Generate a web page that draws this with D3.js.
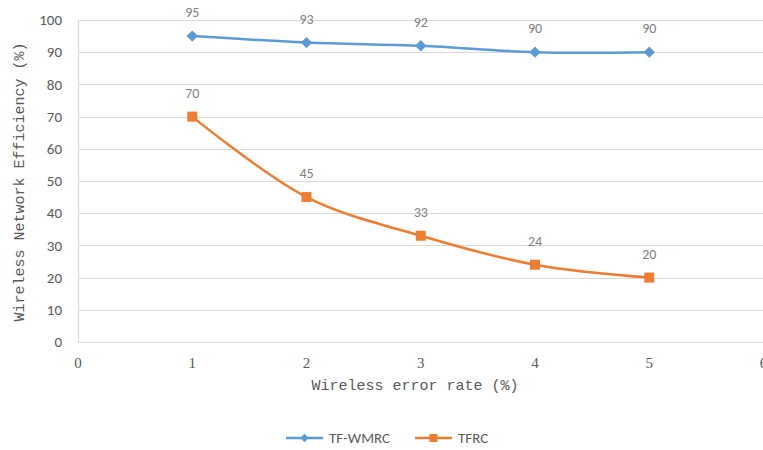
<!DOCTYPE html>
<html>
<head>
<meta charset="utf-8">
<script src="https://cdn.jsdelivr.net/npm/d3@7"></script>
<style>
  body { margin: 0; background: #fff; }
  svg { display: block; }
</style>
</head>
<body>
<div id="chart"></div>
<script>
const errorRates = [1, 2, 3, 4, 5];
const tfWmrc = [95, 93, 92, 90, 90];
const tfrc = [70, 45, 33, 24, 20];
const xTicks = [0, 1, 2, 3, 4, 5, 6];
const yTicks = [0, 10, 20, 30, 40, 50, 60, 70, 80, 90, 100];
const seriesNames = ['TF-WMRC', 'TFRC'];

const width = 763;
const height = 450;
const margins = { top: 20, right: 0, bottom: 108, left: 78 };

const svg = d3.select('#chart').append('svg')
    .attr('width', width)
    .attr('height', height);

const x = d3.scaleLinear().domain([0, 6]).range([margins.left, 763.5]);
const y = d3.scaleLinear().domain([0, 100]).range([height - margins.bottom, margins.top]);

// gridlines
svg.append('g')
    .selectAll('line')
    .data(yTicks)
    .join('line')
    .attr('x1', margins.left)
    .attr('x2', width)
    .attr('y1', d => Math.round(y(d)) + 0.5)
    .attr('y2', d => Math.round(y(d)) + 0.5)
    .attr('stroke', '#d9d9d9')
    .attr('stroke-width', 1.2);

svg.append('line')
    .attr('x1', margins.left + 0.5)
    .attr('x2', margins.left + 0.5)
    .attr('y1', y(100))
    .attr('y2', y(0))
    .attr('stroke', '#d9d9d9')
    .attr('stroke-width', 1.2);

// y tick labels
svg.append('g')
    .selectAll('text')
    .data(yTicks)
    .join('text')
    .attr('x', 62)
    .attr('y', d => y(d))
    .attr('dy', '0.35em')
    .attr('text-anchor', 'end')
    .attr('font-family', 'Carlito, "Liberation Sans", sans-serif')
    .attr('font-size', 15)
    .attr('fill', '#595959')
    .text(d => d);

// x tick labels (the last one is clipped by the right edge, as in the original)
svg.append('g')
    .selectAll('text')
    .data(xTicks)
    .join('text')
    .attr('x', d => x(d))
    .attr('y', 368)
    .attr('text-anchor', 'middle')
    .attr('font-family', '"Liberation Serif", serif')
    .attr('font-size', 15)
    .attr('fill', '#595959')
    .text(d => d);

// axis titles
svg.append('text')
    .attr('x', 415)
    .attr('y', 390)
    .attr('text-anchor', 'middle')
    .attr('font-family', '"Liberation Mono", monospace')
    .attr('font-size', 15)
    .attr('fill', '#595959')
    .text('Wireless error rate (%)');

svg.append('text')
    .attr('transform', 'translate(24,182) rotate(-90)')
    .attr('text-anchor', 'middle')
    .attr('font-family', '"Liberation Mono", monospace')
    .attr('font-size', 15)
    .attr('fill', '#595959')
    .text('Wireless Network Efficiency (%)');

const colors = ['#5b9bd5', '#ed7d31'];
const series = [tfWmrc, tfrc];

const line = d3.line()
    .x((d, i) => x(errorRates[i]))
    .y(d => y(d))
    .curve(d3.curveCatmullRom.alpha(0.5));

// diamond = square turned 45 degrees
function marker(s, side) {
    return d3.symbol(d3.symbolSquare, side * side)();
}

series.forEach((vals, s) => {
    const g = svg.append('g');
    g.append('path')
        .attr('d', line(vals))
        .attr('fill', 'none')
        .attr('stroke', colors[s])
        .attr('stroke-width', 2.5);

    g.selectAll('path.mark')
        .data(vals)
        .join('path')
        .attr('class', 'mark')
        .attr('transform', (d, i) => `translate(${x(errorRates[i])},${y(d)})` + (s === 0 ? ' rotate(45)' : ''))
        .attr('d', marker(s, s === 0 ? 8 : 10))
        .attr('fill', colors[s]);

    g.selectAll('text')
        .data(vals)
        .join('text')
        .attr('x', (d, i) => x(errorRates[i]))
        .attr('y', d => y(d) - 19)
        .attr('text-anchor', 'middle')
        .attr('font-family', 'Carlito, "Liberation Sans", sans-serif')
        .attr('font-size', 14)
        .attr('fill', '#7f7f7f')
        .text(d => d);
});

// legend
const legendX = [286, 415];
const legend = svg.append('g');
seriesNames.forEach((name, s) => {
    const lx = legendX[s];
    legend.append('line')
        .attr('x1', lx)
        .attr('x2', lx + 37)
        .attr('y1', 438)
        .attr('y2', 438)
        .attr('stroke', colors[s])
        .attr('stroke-width', 2.5);
    legend.append('path')
        .attr('transform', `translate(${lx + 18.5},438)` + (s === 0 ? ' rotate(45)' : ''))
        .attr('d', marker(s, s === 0 ? 6 : 8))
        .attr('fill', colors[s]);
    legend.append('text')
        .attr('x', lx + 43)
        .attr('y', 438)
        .attr('dy', '0.35em')
        .attr('font-family', 'Carlito, "Liberation Sans", sans-serif')
        .attr('font-size', 15)
        .attr('fill', '#595959')
        .text(name);
});
</script>
</body>
</html>
